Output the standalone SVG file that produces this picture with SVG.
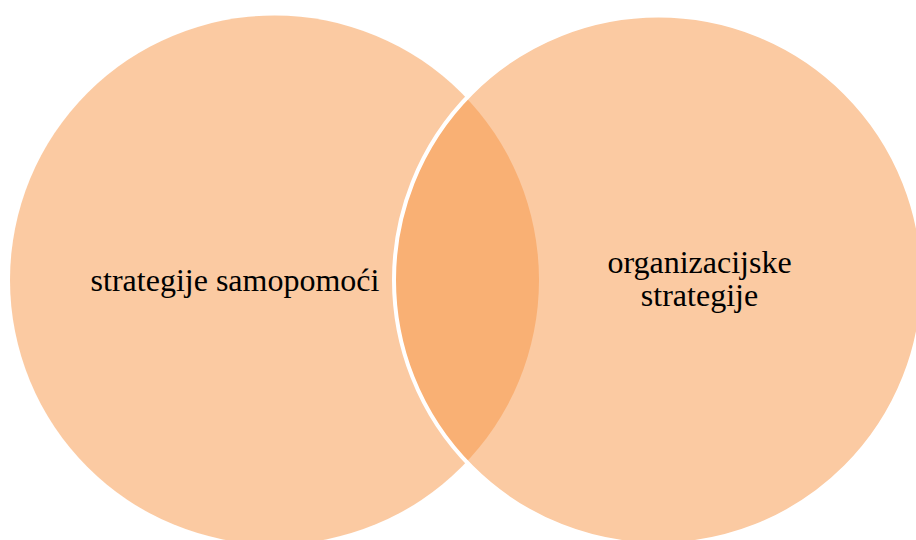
<svg xmlns="http://www.w3.org/2000/svg" width="916" height="540" viewBox="0 0 916 540">
<style>
.c{fill:#F79646;fill-opacity:0.5}
.t{font-family:"Liberation Serif","Times New Roman",serif;font-size:32px;fill:#000;text-anchor:middle}
</style>
<rect width="916" height="540" fill="#fff"/>
<g id="node-left">
<circle class="c" cx="274.5" cy="280" r="264.5"/>
<text class="t" x="235" y="291">strategije samopomoći</text>
</g>
<g id="node-right">
<circle class="c" cx="658.5" cy="280" r="264.5" stroke="#fff" stroke-width="4"/>
<text class="t" x="699.5" y="273">organizacijske</text>
<text class="t" x="699.5" y="306">strategije</text>
</g>
<g id="connectors"/>
</svg>
